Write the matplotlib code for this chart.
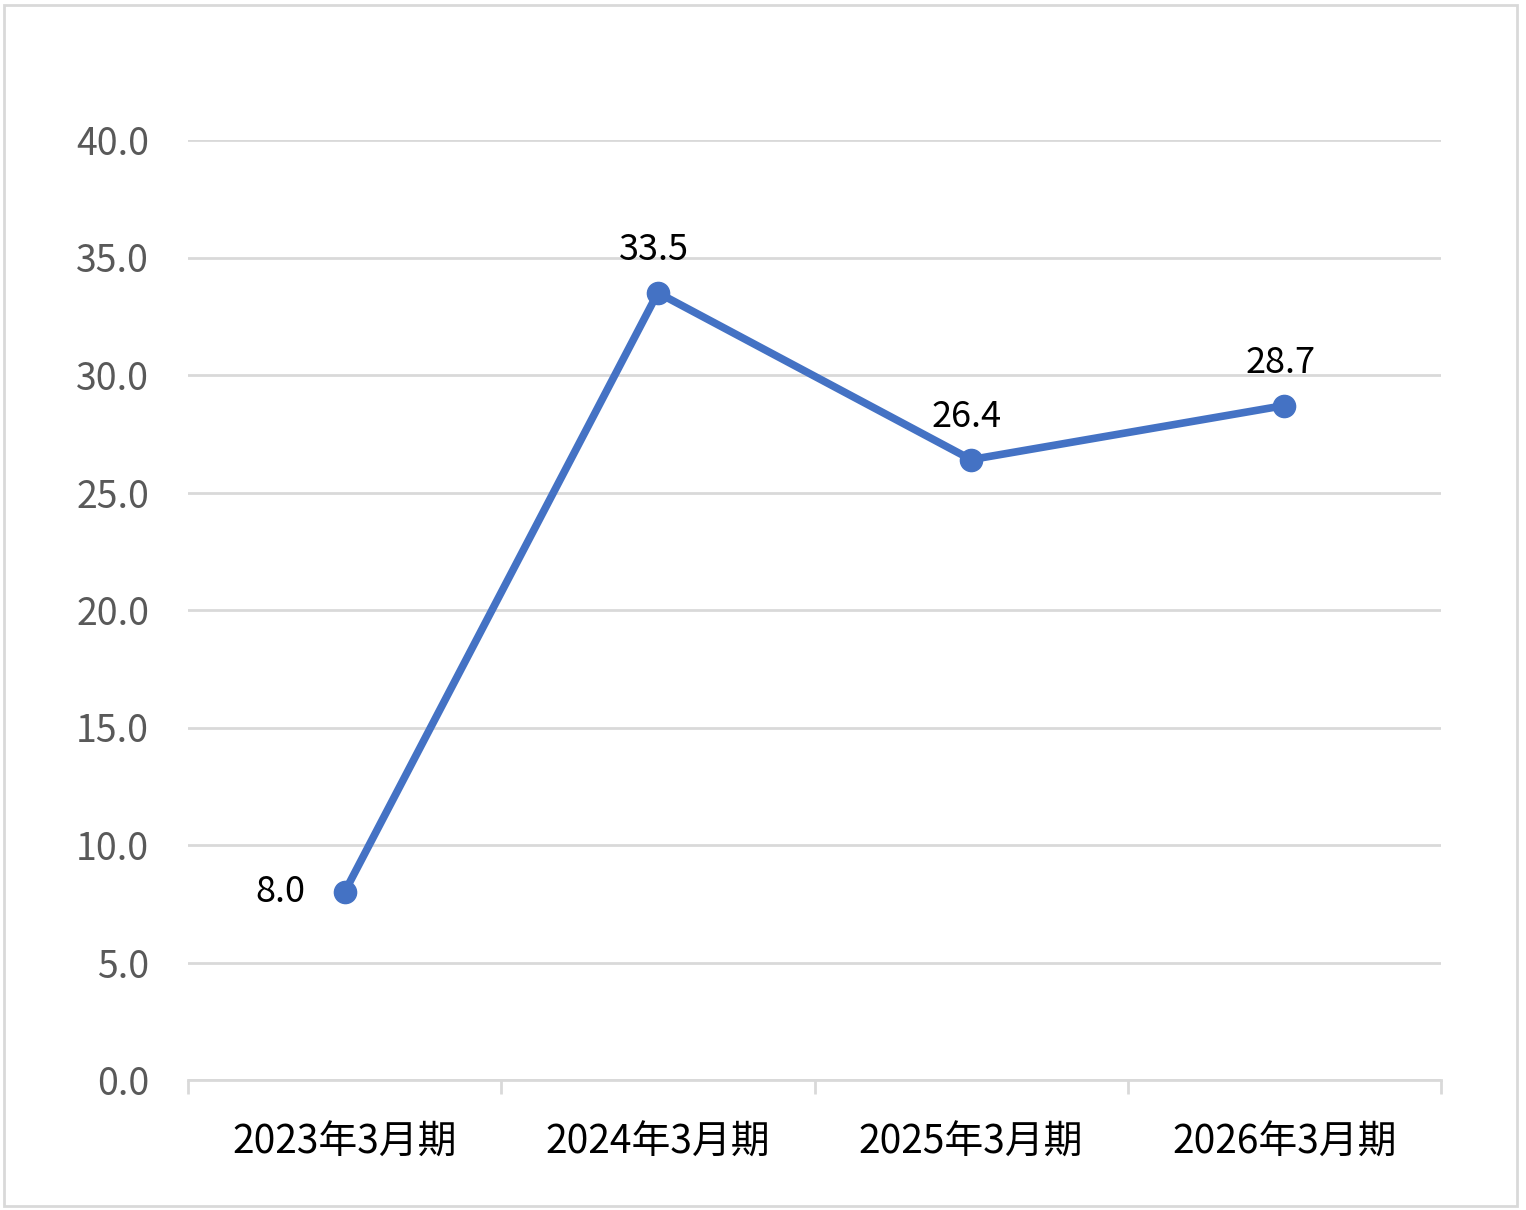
import numpy as np
import matplotlib.pyplot as plt
from matplotlib.patches import Rectangle

plt.rcParams['font.family'] = ['Noto Sans CJK SC', 'DejaVu Sans']

# data
categories = ['2023年3月期', '2024年3月期', '2025年3月期', '2026年3月期']
values = [8.0, 33.5, 26.4, 28.7]
y_ticks = [0, 5, 10, 15, 20, 25, 30, 35, 40]

fig = plt.figure(figsize=(15.26, 12.10), dpi=100)
ax = fig.add_axes([188/1526, 130/1210, 1253/1526, 940/1210])

x = np.arange(len(categories))
ax.plot(x, values, color='#4472C4', linewidth=5.5, marker='o', markersize=16,
        solid_capstyle='round', zorder=3)

# data labels
for i, v in enumerate(values):
    if i == 0:
        ax.annotate('%.1f' % v, (i, v), xytext=(-28, 0), textcoords='offset points',
                    ha='right', va='center', fontsize=26, color='black')
    else:
        ax.annotate('%.1f' % v, (i, v), xytext=(-3, 18), textcoords='offset points',
                    ha='center', va='bottom', fontsize=26, color='black')

ax.set_xlim(-0.5, len(categories) - 0.5)
ax.set_ylim(0, 40)
ax.set_yticks(y_ticks)
ax.set_yticklabels(['%.1f' % t for t in y_ticks], fontsize=27, color='#595959')
for lbl in ax.get_yticklabels():
    lbl.set_va('center_baseline')
ax.yaxis.grid(True, color='#D9D9D9', linewidth=2)
ax.set_axisbelow(True)
ax.tick_params(axis='y', length=0, pad=28)

ax.set_xticks(x)
ax.set_xticklabels(categories, fontsize=28, color='black')
ax.set_xticks(np.arange(-0.5, len(categories)), minor=True)
ax.tick_params(axis='x', which='major', length=0, pad=31)
ax.tick_params(axis='x', which='minor', length=10, width=2, color='#D9D9D9')

for s in ['top', 'right', 'left']:
    ax.spines[s].set_visible(False)
ax.spines['bottom'].set_color('#D9D9D9')
ax.spines['bottom'].set_linewidth(2)

# chart border
fig.patches.append(Rectangle((4/1526, 4/1210), 1513/1526, 1201/1210, transform=fig.transFigure,
                             fill=False, edgecolor='#D9D9D9', linewidth=2))

fig.savefig('out.png', dpi=100)
